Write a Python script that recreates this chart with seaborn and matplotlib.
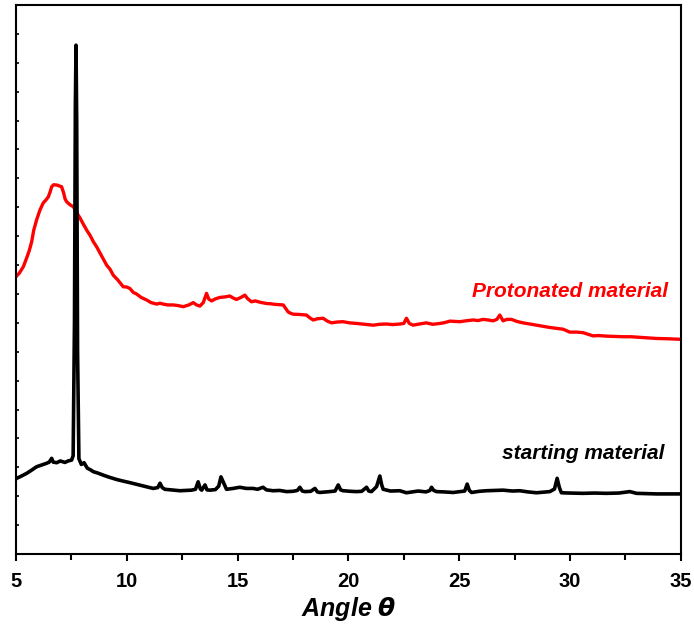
import matplotlib
matplotlib.use("Agg")
import matplotlib.pyplot as plt
import pandas as pd
import seaborn as sns
from matplotlib.ticker import MultipleLocator, NullFormatter

# XRD patterns (angle in degrees, intensity in a.u.)
start_angle = [5.0, 5.03, 5.2, 5.48, 5.7, 5.93, 6.15, 6.38, 6.5, 6.61, 6.68, 6.84, 7.0, 7.21, 7.35, 7.51,
               7.58, 7.64, 7.68, 7.71, 7.74, 7.78, 7.84, 7.95, 8.07, 8.22, 8.35, 8.49, 8.7, 8.94, 9.2,
               9.54, 9.8, 10.14, 10.45, 10.74, 11.0, 11.19, 11.4, 11.5, 11.6, 11.72, 12.0, 12.4, 12.7,
               12.92, 13.1, 13.22, 13.32, 13.38, 13.53, 13.62, 13.75, 14.0, 14.15, 14.25, 14.35, 14.5,
               14.8, 15.1, 15.4, 15.7, 15.9, 16.15, 16.3, 16.6, 16.9, 17.21, 17.5, 17.7, 17.81, 17.92,
               18.04, 18.3, 18.49, 18.6, 18.71, 19.16, 19.4, 19.54, 19.65, 19.76, 20.1, 20.37, 20.6,
               20.82, 20.92, 21.04, 21.27, 21.42, 21.5, 21.57, 21.9, 22.32, 22.62, 22.9, 23.15, 23.5,
               23.68, 23.75, 23.85, 23.98, 24.3, 24.73, 25.03, 25.25, 25.36, 25.46, 25.56, 25.9, 26.23,
               26.6, 26.98, 27.4, 27.73, 28.1, 28.49, 28.8, 29.09, 29.3, 29.42, 29.52, 29.61, 30.0,
               30.59, 31.1, 31.64, 32.2, 32.7, 33.0, 33.5, 33.9, 34.5, 35.0]
start_int = [2.60, 2.62, 2.68, 2.79, 2.90, 3.02, 3.08, 3.14, 3.18, 3.31, 3.18, 3.16, 3.22, 3.17, 3.22, 3.25,
             3.40, 8.0, 15.5, 17.61, 15.0, 7.0, 3.30, 3.10, 3.16, 2.97, 2.92, 2.85, 2.80, 2.73, 2.66,
             2.58, 2.53, 2.47, 2.41, 2.35, 2.30, 2.27, 2.30, 2.45, 2.30, 2.24, 2.22, 2.19, 2.20,
             2.21, 2.24, 2.50, 2.25, 2.21, 2.39, 2.22, 2.21, 2.23, 2.35, 2.67, 2.50, 2.24,
             2.27, 2.31, 2.27, 2.27, 2.24, 2.31, 2.22, 2.19, 2.20, 2.16, 2.17, 2.20, 2.31, 2.18,
             2.16, 2.17, 2.27, 2.15, 2.13, 2.16, 2.18, 2.39, 2.22, 2.19, 2.17, 2.16, 2.17,
             2.31, 2.18, 2.16, 2.33, 2.70, 2.40, 2.24, 2.18, 2.19, 2.12, 2.15, 2.18, 2.15,
             2.20, 2.31, 2.20, 2.16, 2.15, 2.13, 2.16, 2.18, 2.42, 2.20, 2.13, 2.17, 2.19,
             2.20, 2.21, 2.18, 2.19, 2.15, 2.12, 2.14, 2.16, 2.25, 2.62, 2.30, 2.12, 2.11,
             2.10, 2.11, 2.10, 2.11, 2.16, 2.10, 2.09, 2.08, 2.08, 2.08]

proton_angle = [5.0, 5.15, 5.33, 5.48, 5.6, 5.71, 5.8, 5.93, 6.08, 6.23, 6.35, 6.46, 6.55, 6.61, 6.7, 6.84,
                6.95, 7.06, 7.15, 7.22, 7.29, 7.45, 7.59, 7.75, 7.89, 8.05, 8.19, 8.35, 8.49, 8.65, 8.79,
                8.95, 9.09, 9.25, 9.39, 9.6, 9.84, 10.0, 10.14, 10.3, 10.44, 10.65, 10.9, 11.1, 11.35,
                11.5, 11.64, 11.85, 12.1, 12.3, 12.55, 12.8, 13.0, 13.15, 13.3, 13.45, 13.6, 13.7, 13.83,
                14.0, 14.2, 14.45, 14.65, 14.8, 14.95, 15.15, 15.33, 15.45, 15.63, 15.8, 15.93, 16.1,
                16.31, 16.5, 16.68, 16.9, 17.06, 17.17, 17.28, 17.4, 17.51, 17.8, 18.11, 18.25, 18.41,
                18.6, 18.86, 19.05, 19.24, 19.5, 19.76, 20.05, 20.37, 20.75, 21.12, 21.4, 21.72, 22.0,
                22.32, 22.5, 22.62, 22.75, 22.92, 23.2, 23.52, 23.8, 24.13, 24.35, 24.58, 25.03, 25.3,
                25.63, 25.85, 26.08, 26.3, 26.53, 26.7, 26.83, 26.98, 27.15, 27.36, 27.6, 27.88, 28.2,
                28.49, 28.8, 29.09, 29.4, 29.69, 29.99, 30.3, 30.59, 30.8, 31.04, 31.3, 31.64, 32.0,
                32.39, 32.75, 33.15, 33.5, 33.9, 34.4, 35.0]
proton_int = [9.60, 9.72, 9.94, 10.24, 10.50, 10.81, 11.20, 11.56, 11.90, 12.15, 12.25, 12.36, 12.55, 12.71, 12.78, 12.77,
              12.74, 12.71, 12.50, 12.28, 12.19, 12.08, 12.02, 11.80, 11.63, 11.40, 11.21, 11.02, 10.81, 10.62, 10.42,
              10.20, 10.00, 9.85, 9.65, 9.48, 9.25, 9.24, 9.19, 9.05, 9.00, 8.88, 8.79, 8.70, 8.65,
              8.68, 8.65, 8.62, 8.62, 8.60, 8.56, 8.62, 8.70, 8.62, 8.58, 8.70, 9.02, 8.82, 8.76,
              8.83, 8.88, 8.90, 8.93, 8.86, 8.81, 8.88, 8.96, 8.84, 8.73, 8.76, 8.73, 8.70,
              8.67, 8.66, 8.64, 8.63, 8.62, 8.50, 8.38, 8.33, 8.30, 8.29, 8.27, 8.18, 8.10,
              8.14, 8.16, 8.06, 8.00, 8.03, 8.04, 8.00, 7.98, 7.95, 7.92, 7.95, 7.96, 7.94,
              7.96, 7.98, 8.16, 7.98, 7.92, 7.96, 8.00, 7.95, 7.98, 8.01, 8.06, 8.04, 8.07,
              8.10, 8.08, 8.12, 8.10, 8.07, 8.12, 8.27, 8.07, 8.12, 8.12, 8.05, 8.00, 7.96,
              7.92, 7.88, 7.84, 7.81, 7.78, 7.68, 7.68, 7.66, 7.61, 7.55, 7.56, 7.54, 7.53,
              7.52, 7.52, 7.50, 7.48, 7.46, 7.45, 7.43]

start_df = pd.DataFrame({"angle": start_angle, "intensity": start_int})
proton_df = pd.DataFrame({"angle": proton_angle, "intensity": proton_int})

sns.set_style("ticks")
plt.rcParams['font.family'] = ['Liberation Sans', 'DejaVu Sans']

fig = plt.figure(figsize=(6.94, 6.27), dpi=100)
ax = fig.add_axes([0.023, 0.1164, 0.958, 0.8756])

sns.lineplot(data=proton_df, x="angle", y="intensity", color="#ff0000", linewidth=2.4,
             sort=False, estimator=None, ax=ax)
sns.lineplot(data=start_df, x="angle", y="intensity", color="black", linewidth=2.6,
             sort=False, estimator=None, ax=ax)

ax.set_xlim(5, 35)
ax.set_ylim(0, 19)
ax.xaxis.set_major_locator(MultipleLocator(5))
ax.xaxis.set_minor_locator(MultipleLocator(2.5))
ax.yaxis.set_major_locator(MultipleLocator(1))
ax.yaxis.set_major_formatter(NullFormatter())
ax.tick_params(axis='x', which='major', direction='out', length=5, width=1.5, labelsize=14.5,
               pad=8, colors='black')
ax.tick_params(axis='x', which='minor', direction='out', length=4, width=1.5, colors='black')
ax.tick_params(axis='y', which='major', direction='in', length=2.5, width=1.2, colors='black')
for lbl in ax.get_xticklabels():
    lbl.set_fontweight('bold')

for s in ax.spines.values():
    s.set_linewidth(1.5)
    s.set_color('black')

ax.set_xlabel("Angle $\\boldsymbol{\\theta}$", fontsize=18, fontweight='bold', style='italic',
              labelpad=3, color='black')
ax.set_ylabel("")

ax.text(34.41, 9.10, "Protonated material", color="#ff0000", fontsize=15, fontweight='bold',
        style='italic', ha='right', va='center')
ax.text(34.27, 3.49, "starting material", color="black", fontsize=15, fontweight='bold',
        style='italic', ha='right', va='center')

fig.savefig("out.png", dpi=100)
